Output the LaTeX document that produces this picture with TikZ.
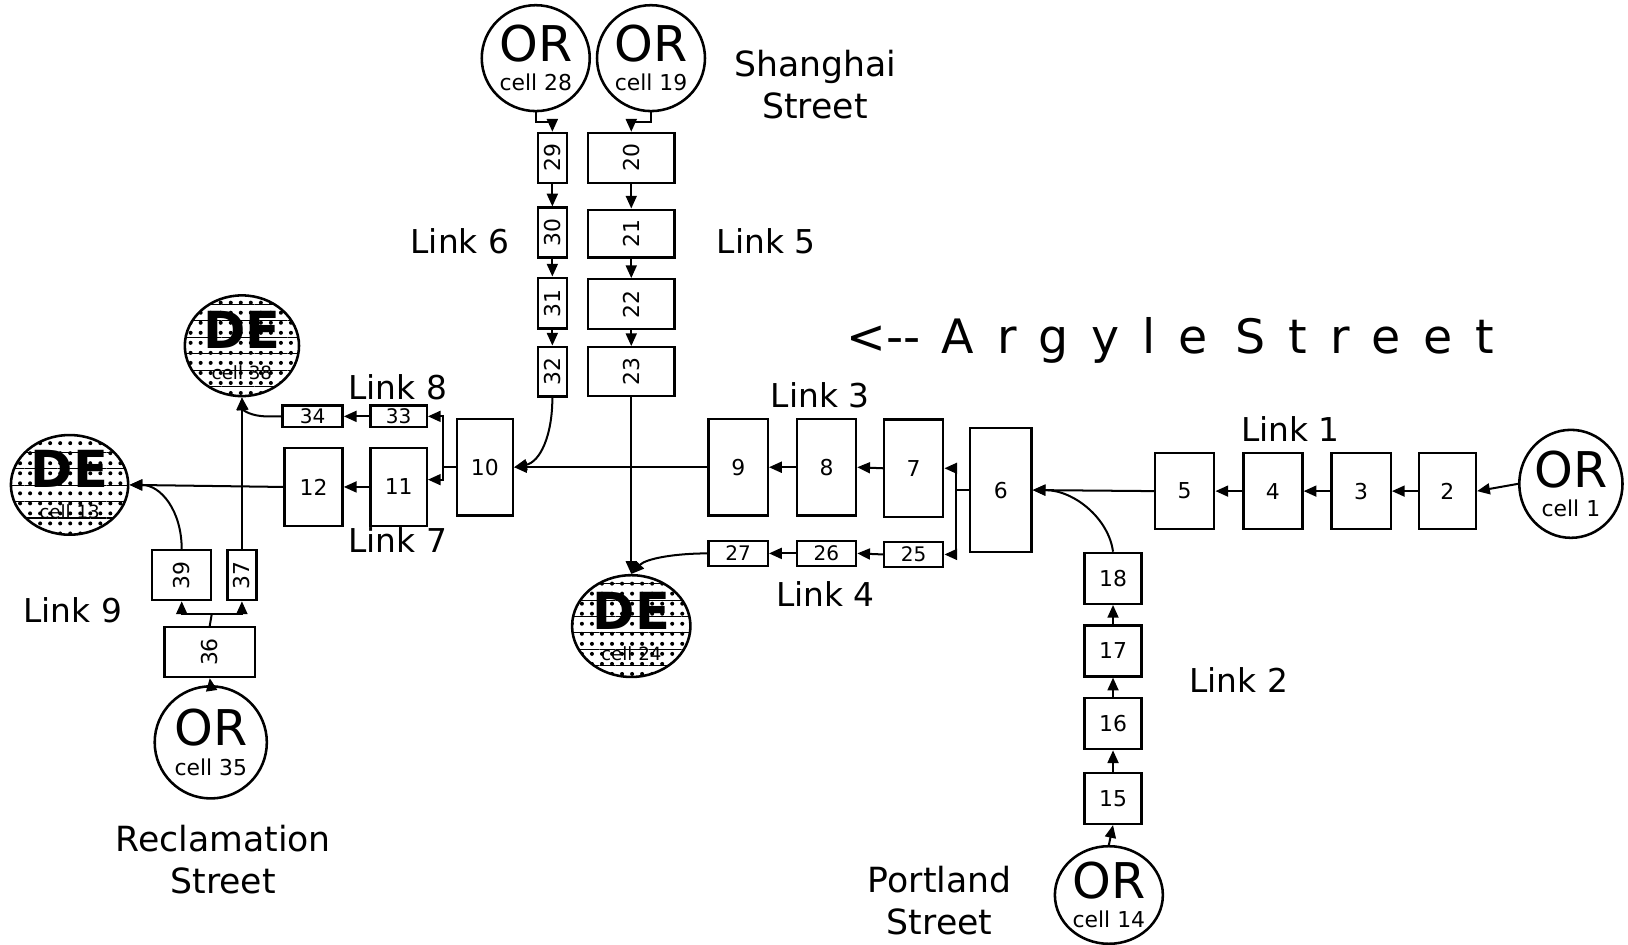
\documentclass[tikz,border=0pt]{standalone}
\usepackage{fontspec}
\usepackage{graphicx}
\setmainfont{DejaVu Sans}
\usetikzlibrary{shapes.geometric,arrows.meta,patterns.meta,calc}
\tikzset{
  sz/.style 2 args={minimum width=#1*0.02cm, minimum height=#2*0.02cm},
  cellbox/.style={draw, line width=1.3pt, inner sep=0pt, fill=white, font=\fontsize{12}{12}\selectfont},
  smallbox/.style={cellbox, font=\fontsize{11}{11}\selectfont},
  orig/.style={draw, ellipse, line width=1.4pt, inner sep=0pt, align=center, fill=white},
  dest/.style={draw, ellipse, line width=1.4pt, inner sep=0pt, align=center,
     pattern={Dots[distance=5.5pt, radius=1.1pt]},
     postaction={pattern={Lines[distance=9pt, line width=0.6pt]}}},
  lnk/.style={font=\fontsize{18}{18}\selectfont, inner sep=0pt},
  streetlbl/.style={font=\fontsize{19}{23}\selectfont, align=center, inner sep=0pt},
  arr/.style={-{Triangle[length=7pt,width=6pt]}, line width=1.1pt},
  ln/.style={line width=1.1pt}
}
\newcommand{\ortext}[1]{{\fontsize{27}{27}\selectfont OR}\\[4pt]{\fontsize{12}{12}\selectfont cell #1}}
\newcommand{\detext}[1]{{\fontsize{28}{28}\selectfont\bfseries DE}\\[5pt]{\fontsize{10}{10}\selectfont cell #1}}
\newcommand{\rt}[1]{\rotatebox{90}{#1}}
\begin{document}
\begin{tikzpicture}[x=0.02cm,y=-0.02cm]
\useasboundingbox (0,0) rectangle (1568,910);

% origins and destinations
\node[orig, sz={104}{102}] (OR28) at (516,56) {\ortext{28}};
\node[orig, sz={104}{102}] (OR19) at (627,56) {\ortext{19}};
\node[orig, sz={94}{104}] (OR1) at (1513,466) {\ortext{1}};
\node[orig, sz={108}{108}] (OR35) at (203,715) {\ortext{35}};
\node[orig, sz={104}{94}] (OR14) at (1068,862) {\ortext{14}};
\node[dest, sz={110}{97}] (DE38) at (233,333) {\detext{38}};
\node[dest, sz={113}{96}] (DE13) at (67,467) {\detext{13}};
\node[dest, sz={114}{98}] (DE24) at (608,603) {\detext{24}};

% link 6
\node[cellbox, sz={28}{48}] (b29) at (532,152) {\rt{29}};
\node[cellbox, sz={28}{48}] (b30) at (532,224) {\rt{30}};
\node[cellbox, sz={28}{49}] (b31) at (532,292) {\rt{31}};
\node[cellbox, sz={28}{48}] (b32) at (532,358) {\rt{32}};
% link 5
\node[cellbox, sz={83}{48}] (b20) at (608,152) {\rt{20}};
\node[cellbox, sz={83}{46}] (b21) at (608,225) {\rt{21}};
\node[cellbox, sz={83}{48}] (b22) at (608,293) {\rt{22}};
\node[cellbox, sz={83}{47}] (b23) at (608,358) {\rt{23}};
% Argyle street
\node[cellbox, sz={54}{93}] (b10) at (467,450) {10};
\node[cellbox, sz={57}{93}] (b9) at (711,450) {9};
\node[cellbox, sz={57}{93}] (b8) at (796,450) {8};
\node[cellbox, sz={57}{94}] (b7) at (880,451) {7};
\node[cellbox, sz={59}{119}] (b6) at (964,472) {6};
\node[cellbox, sz={57}{73}] (b5) at (1141,473) {5};
\node[cellbox, sz={57}{73}] (b4) at (1226,473) {4};
\node[cellbox, sz={57}{73}] (b3) at (1311,473) {3};
\node[cellbox, sz={55}{73}] (b2) at (1394,473) {2};
% link 4
\node[smallbox, sz={57}{24}] (b25) at (880,534) {25};
\node[smallbox, sz={57}{24}] (b26) at (796,533) {26};
\node[smallbox, sz={57}{24}] (b27) at (711,533) {27};
% link 8 / 7
\node[smallbox, sz={54}{21}] (b33) at (384,401) {33};
\node[smallbox, sz={58}{21}] (b34) at (301,401) {34};
\node[cellbox, sz={54}{75}] (b11) at (384,469) {11};
\node[cellbox, sz={56}{75}] (b12) at (302,469) {12};
% link 9
\node[cellbox, sz={57}{48}] (b39) at (175,554) {\rt{39}};
\node[cellbox, sz={28}{48}] (b37) at (233,554) {\rt{37}};
\node[cellbox, sz={87}{48}] (b36) at (202,628) {\rt{36}};
% link 2
\node[cellbox, sz={55}{49}] (b18) at (1072,557) {18};
\node[cellbox, sz={55}{49}] (b17) at (1072,627) {17};
\node[cellbox, sz={55}{49}] (b16) at (1072,697) {16};
\node[cellbox, sz={55}{49}] (b15) at (1072,769) {15};

% junctions
\coordinate (j6) at (921,472);
\coordinate (j10) at (427,450);
\coordinate (j36) at (204,591);

% connectors: links 6 and 5
\draw[arr] (OR28.south) -- ++(0,9) -| (b29.north);
\draw[arr] (OR19.south) -- ++(0,9) -| (b20.north);
\draw[arr] (b29) -- (b30);
\draw[arr] (b30) -- (b31);
\draw[arr] (b31) -- (b32);
\draw[arr] (b20) -- (b21);
\draw[arr] (b21) -- (b22);
\draw[arr] (b22) -- (b23);
\draw[arr] (b32.south) .. controls (532,420) and (520,445) .. (b10.east);
\draw[arr] (b23.south) -- (DE24.north);

% Argyle street
\draw[arr] (OR1.west) -- (b2.east);
\draw[arr] (b2.west) -- (b3.east);
\draw[arr] (b3.west) -- (b4.east);
\draw[arr] (b4.west) -- (b5.east);
\draw[arr] (b5.west) -- (b6.east);
\draw[arr] (b18.north) .. controls (1068,500) and (1035,472) .. (b6.east);
\draw[ln] (b6.west) -- (j6);
\draw[arr] (j6) |- (b7.east);
\draw[arr] (j6) |- (b25.east);
\draw[arr] (b7.west) -- (b8.east);
\draw[arr] (b8.west) -- (b9.east);
\draw[arr] (b9.west) -- (b10.east);
\draw[arr] (b25.west) -- (b26.east);
\draw[arr] (b26.west) -- (b27.east);
\draw[arr] (b27.west) .. controls (650,533) and (622,538) .. (DE24.north);
\draw[ln] (b10.west) -- (j10);
\draw[arr] (j10) |- (b33.east);
\draw[arr] (j10) |- ([yshift=4pt]b11.east);
\draw[arr] (b33.west) -- (b34.east);
\draw[arr] (b34.west) -- (257,401) .. controls (242,401) and (234,395) .. (DE38.south);
\draw[arr] (b11.west) -- (b12.east);
\draw[arr] (b12.west) -- (DE13.east);

% link 9
\draw[arr] (OR35.north) -- (b36.south);
\draw[ln] (b36.north) -- (j36);
\draw[arr] (j36) -| (b39.south);
\draw[arr] (j36) -| (b37.south);
\draw[arr] (b37.north) -- (DE38.south);
\draw[arr] (b39.north) .. controls (175,492) and (155,467) .. (DE13.east);

% link 2
\draw[arr] (OR14.north) -- (b15.south);
\draw[arr] (b15) -- (b16);
\draw[arr] (b16) -- (b17);
\draw[arr] (b17) -- (b18);

% labels
\node[lnk] (l6) at (443,232) {Link 6};
\node[lnk] (l5) at (738,232) {Link 5};
\node[lnk] (l8) at (383,373) {Link 8};
\node[lnk] (l7) at (383,520) {Link 7};
\node[lnk] (l3) at (790,381) {Link 3};
\node[lnk] (l1) at (1243,413) {Link 1};
\node[lnk] (l4) at (795,572) {Link 4};
\node[lnk] (l2) at (1193,655) {Link 2};
\node[lnk] (l9) at (70,588) {Link 9};
\node[streetlbl] (shanghai) at (785,81) {Shanghai\\Street};
\node[streetlbl] (reclam) at (215,828) {Reclamation\\Street};
\node[streetlbl] (portland) at (905,867) {Portland\\Street};
\node[inner sep=0pt, anchor=west, font=\fontsize{26}{26}\selectfont] (argyle) at (815,328)
  {<-{}-\hspace{0.45em}{\addfontfeature{LetterSpace=48}Argyle\hspace{0.6em}Street}};
\end{tikzpicture}
\end{document}
